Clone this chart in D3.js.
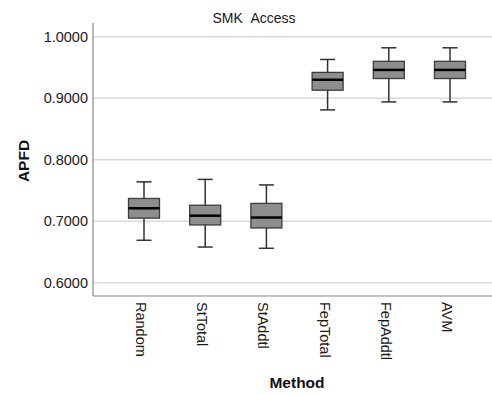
<!DOCTYPE html>
<html><head><meta charset="utf-8">
<script src="https://cdn.jsdelivr.net/npm/d3@7"></script>
<style>html,body{margin:0;padding:0;background:#fff;} svg{display:block;font-family:"Liberation Sans",Arial,sans-serif;}</style>
</head><body><svg id="c" width="492" height="395"></svg>
<script>
const categories = ["Random","StTotal","StAddtl","FepTotal","FepAddtl","AVM"];
const whiskerLow  = [0.669, 0.658, 0.656, 0.881, 0.894, 0.894];
const q1          = [0.705, 0.694, 0.689, 0.913, 0.932, 0.932];
const medians     = [0.721, 0.709, 0.706, 0.930, 0.946, 0.946];
const q3          = [0.737, 0.726, 0.729, 0.942, 0.960, 0.960];
const whiskerHigh = [0.764, 0.768, 0.759, 0.963, 0.982, 0.982];
const yTicks = [0.6, 0.7, 0.8, 0.9, 1.0];
const title = "SMK\u00a0\u00a0Access";
const xTitle = "Method", yTitle = "APFD";

(function(){
const svg = d3.select("#c");
const pl = 93, pr = 492, pt = 23, pb = 296;
const y = d3.scaleLinear().domain([0.5784, 1.0223]).range([pb, pt]);
const x = d3.scalePoint().domain(categories).range([144, 450]);

// gridlines
svg.append("g").selectAll("line").data(yTicks).join("line")
  .attr("x1", pl).attr("x2", pr)
  .attr("y1", d => y(d)).attr("y2", d => y(d))
  .attr("stroke", "#dadada").attr("stroke-width", 1.5);

// y axis
const ya = svg.append("g").attr("transform", `translate(${pl},0)`)
  .call(d3.axisLeft(y).tickValues(yTicks).tickFormat(d3.format(".4f")).tickSize(0).tickPadding(5));
ya.select(".domain").remove();
ya.selectAll("text").attr("font-size", "14.5px").attr("fill", "#1a1a1a").attr("font-family", "Liberation Sans, Arial, sans-serif");

// x axis
const xa = svg.append("g").attr("transform", `translate(0,${pb})`)
  .call(d3.axisBottom(x).tickSize(0).tickPadding(0));
xa.select(".domain").remove();
xa.selectAll("text")
  .attr("font-size", "14.5px").attr("fill", "#1a1a1a").attr("font-family", "Liberation Sans, Arial, sans-serif")
  .attr("text-anchor", "start")
  .attr("transform", "rotate(90)")
  .attr("x", 6).attr("y", 0).attr("dy", "8.5px");

// axis lines
svg.append("line").attr("x1", pl).attr("x2", pl).attr("y1", pt).attr("y2", pb)
  .attr("stroke", "#8a8a8a").attr("stroke-width", 1.2);
svg.append("line").attr("x1", pl).attr("x2", pr).attr("y1", pb).attr("y2", pb)
  .attr("stroke", "#8a8a8a").attr("stroke-width", 1.2);

// boxes
const data = categories.map((c, i) => ({c, lo: whiskerLow[i], q1: q1[i], med: medians[i], q3: q3[i], hi: whiskerHigh[i]}));
const bw = 31, cw = 15;
const g = svg.append("g").selectAll("g").data(data).join("g");
g.append("line").attr("x1", d => x(d.c)).attr("x2", d => x(d.c))
  .attr("y1", d => y(d.hi)).attr("y2", d => y(d.lo)).attr("stroke", "#333").attr("stroke-width", 1.5);
g.append("line").attr("x1", d => x(d.c) - cw/2).attr("x2", d => x(d.c) + cw/2)
  .attr("y1", d => y(d.hi)).attr("y2", d => y(d.hi)).attr("stroke", "#333").attr("stroke-width", 1.5);
g.append("line").attr("x1", d => x(d.c) - cw/2).attr("x2", d => x(d.c) + cw/2)
  .attr("y1", d => y(d.lo)).attr("y2", d => y(d.lo)).attr("stroke", "#333").attr("stroke-width", 1.5);
g.append("rect").attr("x", d => x(d.c) - bw/2).attr("width", bw)
  .attr("y", d => y(d.q3)).attr("height", d => y(d.q1) - y(d.q3))
  .attr("fill", "#8e8e8e").attr("stroke", "#3c3c3c").attr("stroke-width", 1.3);
g.append("line").attr("x1", d => x(d.c) - bw/2).attr("x2", d => x(d.c) + bw/2)
  .attr("y1", d => y(d.med)).attr("y2", d => y(d.med)).attr("stroke", "#000").attr("stroke-width", 2.5);

// titles
svg.append("text").attr("x", 254).attr("y", 22.5).attr("text-anchor", "middle")
  .attr("font-size", "14px").attr("fill", "#1a1a1a").text(title);
svg.append("text").attr("x", 297).attr("y", 388).attr("text-anchor", "middle")
  .attr("font-size", "15.5px").attr("font-weight", "bold").attr("fill", "#111").text(xTitle);
svg.append("text").attr("transform", "translate(28.5,161) rotate(-90)").attr("text-anchor", "middle")
  .attr("font-size", "15.5px").attr("font-weight", "bold").attr("fill", "#111").text(yTitle);
})();
</script></body></html>
